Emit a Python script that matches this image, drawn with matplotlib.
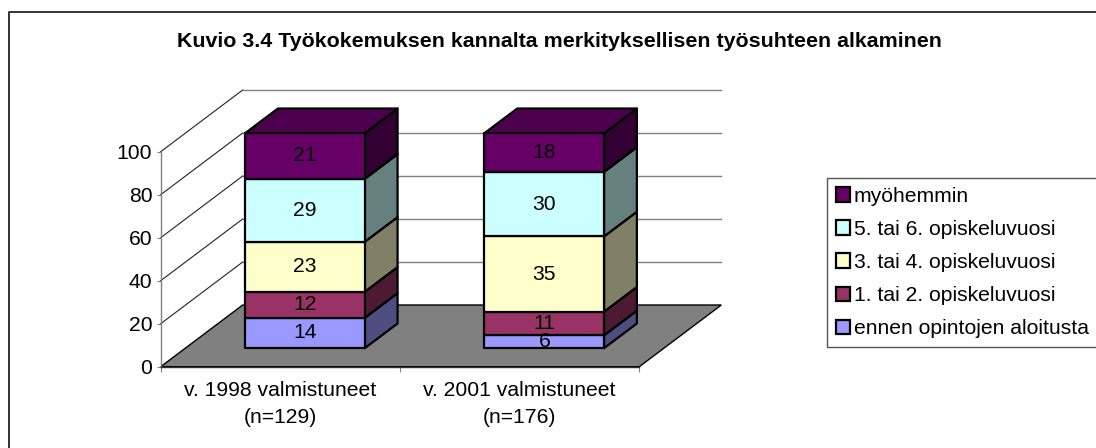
import matplotlib
matplotlib.use("Agg")
import matplotlib.pyplot as plt
from matplotlib.patches import Polygon, Patch
from matplotlib.lines import Line2D
from matplotlib.colors import to_rgb

plt.rcParams['font.family'] = ['Liberation Sans', 'DejaVu Sans']

# ---- data ----
title = "Kuvio 3.4 Työkokemuksen kannalta merkityksellisen työsuhteen alkaminen"
categories = ["v. 1998 valmistuneet\n(n=129)", "v. 2001 valmistuneet\n(n=176)"]
series_names = ["ennen opintojen aloitusta", "1. tai 2. opiskeluvuosi", "3. tai 4. opiskeluvuosi",
                "5. tai 6. opiskeluvuosi", "myöhemmin"]
ennen = [14, 6]
vuosi_1_2 = [12, 11]
vuosi_3_4 = [23, 35]
vuosi_5_6 = [29, 30]
myohemmin = [21, 18]
series = [ennen, vuosi_1_2, vuosi_3_4, vuosi_5_6, myohemmin]
colors = ["#9999FF", "#993366", "#FFFFCC", "#CCFFFF", "#660066"]
y_ticks = [0, 20, 40, 60, 80, 100]

W, H = 1096, 448
PX_L, PX_R, PX_T, PX_B = 160.7, 639.3, 151.7, 366.7
DEPTH_X = 82.0 / ((PX_R - PX_L) / 2)      # depth of the box, in category units
DEPTH_Y = 61.7 / ((PX_B - PX_T) / 100)    # depth of the box, in value units
FONT = 15.2

fig = plt.figure(figsize=(W / 100, H / 100), dpi=100, facecolor="white")
ax = fig.add_axes([PX_L / W, 1 - PX_B / H, (PX_R - PX_L) / W, (PX_B - PX_T) / H])
ax.set_xlim(0, len(categories))
ax.set_ylim(0, 100)
ax.patch.set_visible(False)


def proj(x, v, d):
    return (x + d * DEPTH_X, v + d * DEPTH_Y)


def poly(pts, **kw):
    ax.add_patch(Polygon(pts, closed=True, clip_on=False, **kw))


n = len(categories)
# floor
poly([proj(0, 0, 0), proj(n, 0, 0), proj(n, 0, 1), proj(0, 0, 1)],
     facecolor="#808080", edgecolor="black", linewidth=1.0, zorder=1)
# gridlines on side and back walls
for v in y_ticks[1:]:
    ax.plot(*zip(proj(0, v, 0), proj(0, v, 1)), color="#222222", lw=0.8, clip_on=False, zorder=1)
    ax.plot(*zip(proj(0, v, 1), proj(n, v, 1)), color="#808080", lw=1.0, clip_on=False, zorder=1)

# stacked 100 % bars
BAR_W = 0.5
D0, D1 = 0.3, 0.7
LW = 1.6


def shade(c, f):
    return tuple(f * k for k in to_rgb(c))


for i in range(n):
    total = sum(s[i] for s in series)
    x0, x1 = i + 0.5 - BAR_W / 2, i + 0.5 + BAR_W / 2
    base = 0.0
    for s, c in zip(series, colors):
        top = base + s[i] * 100.0 / total
        poly([proj(x1, base, D0), proj(x1, base, D1), proj(x1, top, D1), proj(x1, top, D0)],
             facecolor=shade(c, 0.5), edgecolor="black", linewidth=LW, joinstyle="round", zorder=3)
        poly([proj(x0, base, D0), proj(x1, base, D0), proj(x1, top, D0), proj(x0, top, D0)],
             facecolor=c, edgecolor="black", linewidth=LW, joinstyle="round", zorder=4)
        xc, yc = proj((x0 + x1) / 2, (base + top) / 2, D0)
        ax.text(xc, yc, str(s[i]), ha="center", va="center", fontsize=FONT, color="black",
                zorder=6, clip_on=False)
        base = top
    poly([proj(x0, base, D0), proj(x1, base, D0), proj(x1, base, D1), proj(x0, base, D1)],
         facecolor=shade(colors[-1], 0.75), edgecolor="black", linewidth=LW, joinstyle="round", zorder=3)

# axes
for k in ("top", "right"):
    ax.spines[k].set_visible(False)
ax.spines["left"].set_color("#808080")
ax.spines["left"].set_linewidth(1.0)
ax.spines["bottom"].set_color("#333333")
ax.spines["bottom"].set_linewidth(1.0)
ax.set_yticks(y_ticks)
ax.tick_params(axis="y", length=3.0, width=0.8, color="#808080", labelsize=FONT, pad=3)
ax.set_xticks(range(n + 1))
ax.set_xticklabels([])
ax.tick_params(axis="x", which="major", length=3.5, width=0.8, color="#808080")
ax.set_xticks([i + 0.5 for i in range(n)], minor=True)
ax.set_xticklabels(categories, minor=True, fontsize=FONT, linespacing=1.5)
ax.tick_params(axis="x", which="minor", length=0, pad=10.5)

# title
fig.text(559 / W, 1 - 47.3 / H, title, ha="center", va="baseline", fontsize=15.4,
         fontweight="bold", color="black")

# legend
handles = [Patch(facecolor=c, edgecolor="black", linewidth=LW, label=l)
           for c, l in zip(colors[::-1], series_names[::-1])]
leg = fig.legend(handles=handles, loc="upper left", bbox_to_anchor=(826.7 / W, 1 - 178 / H),
                 bbox_transform=fig.transFigure, borderaxespad=0, fontsize=FONT,
                 frameon=True, fancybox=False, framealpha=1, edgecolor="#555555",
                 handlelength=0.7, handleheight=0.7, handletextpad=0.17,
                 labelspacing=0.67, borderpad=0.42)
leg.get_frame().set_linewidth(1.0)

# outer chart border (left and top only)
fig.add_artist(Line2D([8.7 / W, 8.7 / W, 1], [0, 1 - 12 / H, 1 - 12 / H],
                      transform=fig.transFigure, color="#333333", lw=1.4))

fig.savefig("out.png", dpi=100)
